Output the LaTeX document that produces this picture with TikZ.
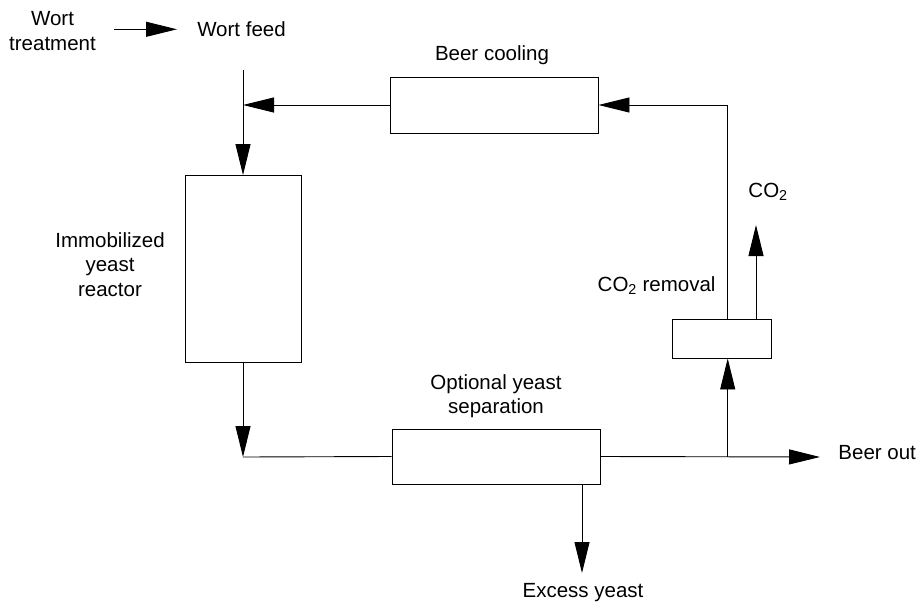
\documentclass[tikz,border=0pt]{standalone}
\usepackage{fontspec}
\setmainfont{Liberation Sans}
\usepackage{tikz}
\usetikzlibrary{arrows.meta}
\usetikzlibrary{positioning}
\usetikzlibrary{calc}

\begin{document}
\begin{tikzpicture}[x=1pt,y=-1pt,line width=0.9pt,
  every node/.style={font=\fontsize{20.5}{24.5}\selectfont,inner sep=0pt},
  unit/.style={draw,fill=white,line width=0.9pt},
  flow/.style={-{Triangle[length=31pt,width=15pt]}}]
\useasboundingbox (0,0) rectangle (920,602);

% process units
\node [unit,minimum width=116pt,minimum height=187pt] (reactor) at (243,269) {};
\node [unit,minimum width=208pt,minimum height=56pt] (cooler) at (494,105) {};
\node [unit,minimum width=208pt,minimum height=55pt] (separator) at (496,456.5) {};
\node [unit,minimum width=99pt,minimum height=39pt] (degasser) at (721.5,338.5) {};

% labels
\node [align=center] (wtreat) at (52.5,31) {Wort\\treatment};
\node [anchor=base] (wfeed) at (241.5,37) {Wort feed};
\node [anchor=base] (lcool) at (492,60.7) {Beer cooling};
\node [align=center] (lreact) at (110,264.5) {Immobilized\\yeast\\reactor};
\node [align=center] (lsep) at (496,396.3) {Optional yeast\\separation};
\node [anchor=base east] (ldegas) at (716,291.7) {CO\textsubscript{2} removal};
\node [anchor=base west] (lco2) at (748,197) {CO\textsubscript{2}};
\node [anchor=base west] (lbeer) at (838,459) {Beer out};
\node [anchor=base] (lexcess) at (583,597) {Excess yeast};

% junctions and free ends
\coordinate (wstart) at (114,29.3);
\coordinate (wend) at (177,29.3);
\coordinate (feedtop) at (243,70);
\coordinate (turn) at (243,457);
\coordinate (riser) at (727.7,105);
\coordinate (split) at (727.7,457);
\coordinate (beerend) at (820,457);
\coordinate (co2top) at (756,225);
\coordinate (excessend) at (582,573);

% streams
\draw [flow] (wstart) -- (wend);
\draw [flow] (feedtop) -- (reactor.north);
\draw [flow] (cooler.west) -- (cooler.west -| feedtop);
\draw [flow] (degasser.north -| riser) -- (riser) -- (cooler.east);
\draw [flow] (reactor.south) -- (turn);
\draw (turn) -- (separator.west);
\draw [flow] (separator.east) -- (beerend);
\draw [flow] (split) -- (degasser.south -| split);
\draw [flow] (degasser.north -| co2top) -- (co2top);
\draw [flow] (separator.south -| excessend) -- (excessend);

\end{tikzpicture}
\end{document}
